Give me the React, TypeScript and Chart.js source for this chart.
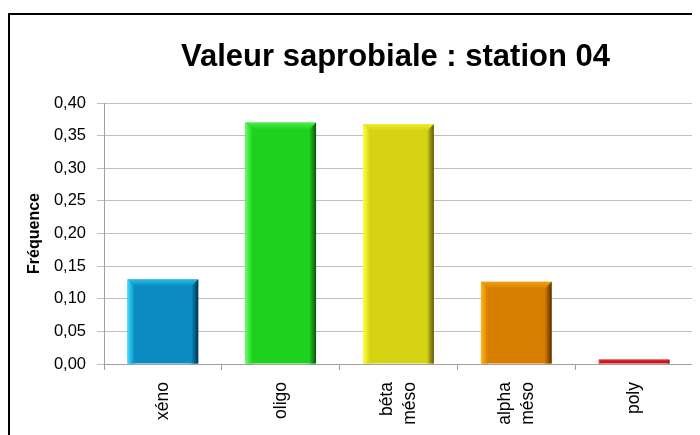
import React, { useEffect, useRef } from "react";
import { Chart, registerables } from "chart.js";

Chart.register(...registerables);

const chartTitle = "Valeur saprobiale : station 04";
const yAxisTitle = "Fréquence";
const categories: string[][] = [["xéno"], ["oligo"], ["béta", "méso"], ["alpha", "méso"], ["poly"]];
const frequencies: number[] = [0.13, 0.37, 0.368, 0.126, 0.007];
const yMin = 0;
const yMax = 0.4;
const yStep = 0.05;

const baseColors = ["#0a8cc2", "#1fd11f", "#d6d214", "#d77e00", "#c8181c"];
const lightColors = ["#3fe0ff", "#66ff66", "#ffff40", "#ffb81c", "#ff5050"];
const darkColors = ["#00324f", "#0a550a", "#5c580a", "#5a3200", "#601010"];

const FONT = "'Liberation Sans', Arial, sans-serif";

const bevelPlugin = {
  id: "bevel",
  afterDatasetsDraw(chart: any) {
    const ctx = chart.ctx;
    const meta = chart.getDatasetMeta(0);
    meta.data.forEach((bar: any, i: number) => {
      const p = bar.getProps(["x", "y", "base", "width"], true);
      const left = p.x - p.width / 2;
      const right = p.x + p.width / 2;
      const top = Math.min(p.y, p.base);
      const bottom = Math.max(p.y, p.base);
      const h = bottom - top;
      const b = Math.min(7, h / 2, p.width / 2);
      if (b < 1) return;
      ctx.save();
      let g = ctx.createLinearGradient(left, 0, left + b, 0);
      g.addColorStop(0, lightColors[i]);
      g.addColorStop(1, baseColors[i]);
      ctx.fillStyle = g;
      ctx.beginPath();
      ctx.moveTo(left, top);
      ctx.lineTo(left + b, top + b);
      ctx.lineTo(left + b, bottom);
      ctx.lineTo(left, bottom);
      ctx.closePath();
      ctx.fill();
      g = ctx.createLinearGradient(right - b, 0, right, 0);
      g.addColorStop(0, baseColors[i]);
      g.addColorStop(1, darkColors[i]);
      ctx.fillStyle = g;
      ctx.beginPath();
      ctx.moveTo(right, top);
      ctx.lineTo(right - b, top + b);
      ctx.lineTo(right - b, bottom);
      ctx.lineTo(right, bottom);
      ctx.closePath();
      ctx.fill();
      g = ctx.createLinearGradient(0, top, 0, top + b);
      g.addColorStop(0, lightColors[i]);
      g.addColorStop(1, baseColors[i]);
      ctx.fillStyle = g;
      ctx.globalAlpha = 0.6;
      ctx.beginPath();
      ctx.moveTo(left, top);
      ctx.lineTo(right, top);
      ctx.lineTo(right - b, top + b);
      ctx.lineTo(left + b, top + b);
      ctx.closePath();
      ctx.fill();
      ctx.restore();
    });
  },
};

const titlePlugin = {
  id: "centeredTitle",
  afterDraw(chart: any) {
    const ctx = chart.ctx;
    const area = chart.chartArea;
    ctx.save();
    ctx.font = `bold 31px ${FONT}`;
    ctx.fillStyle = "#000";
    ctx.textAlign = "center";
    ctx.textBaseline = "middle";
    ctx.fillText(chartTitle, (area.left + area.right) / 2 - 3, 42);
    ctx.restore();
  },
};

const xLabelPlugin = {
  id: "xLabels",
  afterDraw(chart: any) {
    const ctx = chart.ctx;
    const xs = chart.scales.x;
    const lineH = 23;
    ctx.save();
    ctx.font = `17.5px ${FONT}`;
    ctx.fillStyle = "#000";
    ctx.textAlign = "right";
    ctx.textBaseline = "middle";
    categories.forEach((lines, i) => {
      const cx = xs.getPixelForValue(i);
      const n = lines.length;
      lines.forEach((line, j) => {
        const x = cx + (j - (n - 1) / 2) * lineH;
        ctx.save();
        ctx.translate(x, xs.top + 18);
        ctx.rotate(-Math.PI / 2);
        ctx.fillText(line, 0, 0);
        ctx.restore();
      });
    });
    ctx.restore();
  },
};

export default function App() {
  const ref = useRef<HTMLCanvasElement | null>(null);
  useEffect(() => {
    document.documentElement.style.overflow = "hidden";
    document.body.style.overflow = "hidden";
    if (!ref.current) return;
    const chart = new Chart(ref.current, {
      type: "bar",
      data: {
        labels: categories.map((c) => c.join(" ")),
        datasets: [
          {
            data: frequencies,
            backgroundColor: baseColors,
            borderWidth: 0,
            barPercentage: 0.6,
            categoryPercentage: 1,
          },
        ],
      },
      options: {
        responsive: false,
        animation: false,
        layout: { padding: { top: 88, right: 7, left: 0, bottom: 0 } },
        plugins: { legend: { display: false }, tooltip: { enabled: false }, title: { display: false } },
        scales: {
          x: {
            grid: { offset: true, drawOnChartArea: false, tickLength: 6, color: "#a0a0a0" },
            border: { color: "#a0a0a0" },
            ticks: { display: false, autoSkip: false },
            afterFit: (scale: any) => {
              scale.height = 76;
            },
          },
          y: {
            min: yMin,
            max: yMax,
            grid: { color: "#c0c0c0", tickLength: 7 },
            border: { color: "#a0a0a0" },
            ticks: {
              stepSize: yStep,
              padding: 11,
              color: "#000",
              font: { family: FONT, size: 16.5 },
              callback: (v: any) => Number(v).toFixed(2).replace(".", ","),
            },
            title: {
              display: true,
              text: yAxisTitle,
              color: "#000",
              font: { family: FONT, size: 16, weight: "bold" },
              padding: { top: 15, bottom: 0 },
            },
            afterFit: (scale: any) => {
              scale.width = 94;
            },
          },
        },
      },
      plugins: [bevelPlugin, titlePlugin, xLabelPlugin],
    });
    return () => chart.destroy();
  }, []);
  return (
    <div
      style={{
        marginTop: 5,
        width: 700,
        height: 440,
        border: "2px solid #000",
        background: "#fff",
      }}
    >
      <canvas ref={ref} width={690} height={425} style={{ display: "block" }} />
    </div>
  );
}
